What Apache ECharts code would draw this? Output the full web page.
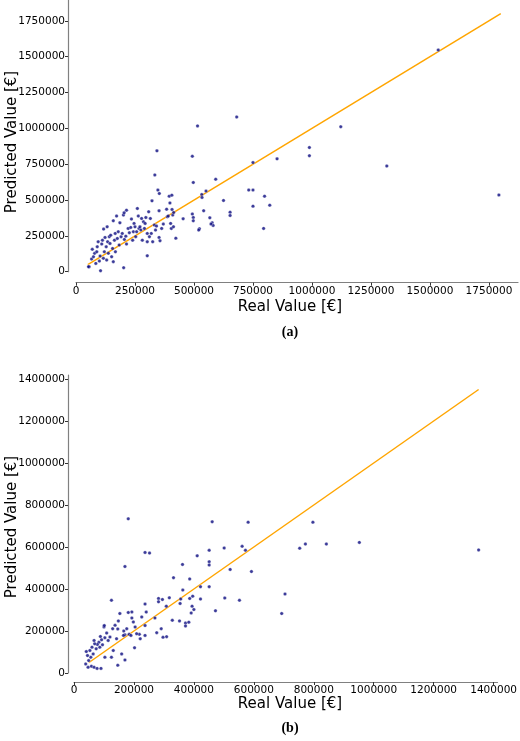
<!DOCTYPE html>
<html><head><meta charset="utf-8">
<script src="https://cdn.jsdelivr.net/npm/echarts@6/dist/echarts.min.js"></script>
<style>html,body{margin:0;padding:0;background:#fff}#c{width:520px;height:741px}</style>
</head><body><div id="c"></div>
<script>
// Panel (a): [real, predicted] in thousands of €
const pointsA = [[56,35],[66,88],[74,104],[69,156],[79,128],[84,58],[88,139],[90,174],[99,74],[104,7],[102,109],[109,193],[112,220],[116,93],[120,139],[117,297],[123,239],[128,174],[130,81],[134,209],[137,128],[141,244],[144,197],[147,255],[151,104],[155,162],[158,70],[158,355],[163,220],[167,139],[172,388],[175,232],[179,279],[183,186],[186,341],[191,244],[196,267],[201,395],[204,411],[205,225],[211,248],[214,193],[221,302],[226,272],[232,309],[235,367],[240,220],[243,279],[246,337],[250,313],[253,244],[257,279],[260,441],[264,388],[267,302],[271,313],[275,290],[278,371],[281,220],[286,348],[290,302],[293,337],[296,378],[302,267],[302,209],[308,418],[311,244],[315,371],[319,267],[322,494],[325,209],[332,325],[337,290],[341,318],[352,425],[352,239],[356,216],[363,302],[370,332],[384,436],[387,383],[391,388],[398,480],[401,337],[404,302],[407,434],[410,395],[414,413],[413,313],[395,527],[406,534],[94,209],[132,313],[166,267],[214,429],
[681,1079],[515,1017],[1122,1011],[989,866],[989,809],[750,761],[852,787],[343,843],[493,805],[334,675],[497,622],[592,645],[347,569],[353,545],[551,562],[533,538],[534,518],[541,425],[493,402],[497,378],[497,355],[454,369],[567,376],[577,341],[581,323],[572,332],[523,299],[520,290],[423,234],[302,111],[202,28],[53,35],[795,302],[653,415],[653,392],[625,497],[732,569],[750,569],[799,527],[750,457],[821,464],[1317,737],[1792,535],[1535,1546]];
const lineA = [[50,50],[1800,1800]];
const ticksA = ['0','250000','500000','750000','1000000','1250000','1500000','1750000'];

// Panel (b): [real, predicted] in thousands of €
const pointsB = [[181,734],[461,720],[581,718],[797,718],[952,622],[772,614],[842,614],[753,594],[561,603],[572,584],[501,595],[451,584],[411,558],[451,530],[451,514],[362,517],[237,574],[252,571],[170,507],[521,493],[592,483],[332,454],[386,448],[422,411],[451,411],[363,395],[704,376],[693,283],[552,346],[503,357],[472,296],[422,352],[400,302],[394,318],[391,286],[386,355],[396,366],[356,352],[354,331],[318,358],[282,355],[295,350],[308,318],[282,339],[237,328],[328,251],[352,248],[372,238],[383,242],[372,224],[309,173],[297,170],[291,211],[276,192],[270,262],[241,290],[237,226],[226,267],[218,184],[204,219],[198,243],[193,291],[181,288],[193,262],[184,184],[176,211],[170,182],[166,200],[153,283],[148,248],[146,210],[137,227],[129,211],[125,346],[120,171],[114,155],[109,190],[103,168],[100,219],[95,134],[92,158],[88,174],[86,123],[83,146],[78,136],[74,115],[69,139],[67,155],[64,91],[60,123],[56,75],[53,107],[49,59],[45,83],[41,102],[39,43],[47,27],[58,32],[67,27],[77,22],[90,22],[103,75],[125,75],[131,107],[146,37],[159,91],[170,62],[202,120],[101,226],[142,163],[165,179],[190,179],[209,187],[237,179],[221,163],[1350,586]];
const lineB = [[50,50],[1350,1350]];
const ticksB = ['0','200000','400000','600000','800000','1000000','1200000','1400000'];

const K = 1000;
const toData = arr => arr.map(p => [p[0]*K, p[1]*K]);
const F = 'DejaVu Sans';
const lab = {color:'#000', fontFamily:F, fontSize:10.5};
function axis(idx, max, interval, offset){
  return {type:'value', gridIndex:idx, min:0, max:max, interval:interval, offset:offset,
    splitLine:{show:false},
    axisLine:{show:true, onZero:false, lineStyle:{color:'#808080', width:1.2}},
    axisTick:{show:true, length:3, lineStyle:{color:'#333'}},
    axisLabel:Object.assign({margin:3, showMaxLabel:false, formatter:v=>String(Math.round(v))}, lab)};
}
const chart = echarts.init(document.getElementById('c'), null, {renderer:'canvas'});
chart.setOption({
  animation:false,
  grid:[{left:76, right:2, top:0, bottom:469.3},
        {left:74, right:22, top:375, bottom:68}],
  xAxis:[axis(0,1873000,250000,11), axis(1,1413000,200000,9)],
  yAxis:[axis(0,1895000,250000,8), axis(1,1419000,200000,6)],
  series:[
    {type:'line', xAxisIndex:0, yAxisIndex:0, data:toData(lineA), symbol:'none', lineStyle:{color:'#FFA500', width:1.5}, z:1},
    {type:'scatter', xAxisIndex:0, yAxisIndex:0, data:toData(pointsA), symbolSize:3.5, itemStyle:{color:'#0a0a80', borderColor:'#fff', borderWidth:0.4}, z:2},
    {type:'line', xAxisIndex:1, yAxisIndex:1, data:toData(lineB), symbol:'none', lineStyle:{color:'#FFA500', width:1.5}, z:1},
    {type:'scatter', xAxisIndex:1, yAxisIndex:1, data:toData(pointsB), symbolSize:3.5, itemStyle:{color:'#0a0a80', borderColor:'#fff', borderWidth:0.4}, z:2}
  ],
  graphic:[
    {type:'text', x:290, y:307, style:{text:'Real Value [€]', font:'15px "DejaVu Sans"', fill:'#000', textAlign:'center', textVerticalAlign:'middle'}},
    {type:'text', x:12, y:142, rotation:Math.PI/2, style:{text:'Predicted Value [€]', font:'15px "DejaVu Sans"', fill:'#000', textAlign:'center', textVerticalAlign:'middle'}},
    {type:'text', x:290, y:332, style:{text:'(a)', font:'bold 14px "Liberation Serif"', fill:'#000', textAlign:'center', textVerticalAlign:'middle'}},
    {type:'text', x:290, y:704, style:{text:'Real Value [€]', font:'15px "DejaVu Sans"', fill:'#000', textAlign:'center', textVerticalAlign:'middle'}},
    {type:'text', x:12, y:527, rotation:Math.PI/2, style:{text:'Predicted Value [€]', font:'15px "DejaVu Sans"', fill:'#000', textAlign:'center', textVerticalAlign:'middle'}},
    {type:'text', x:290, y:728, style:{text:'(b)', font:'bold 14px "Liberation Serif"', fill:'#000', textAlign:'center', textVerticalAlign:'middle'}}
  ]
});
</script></body></html>
